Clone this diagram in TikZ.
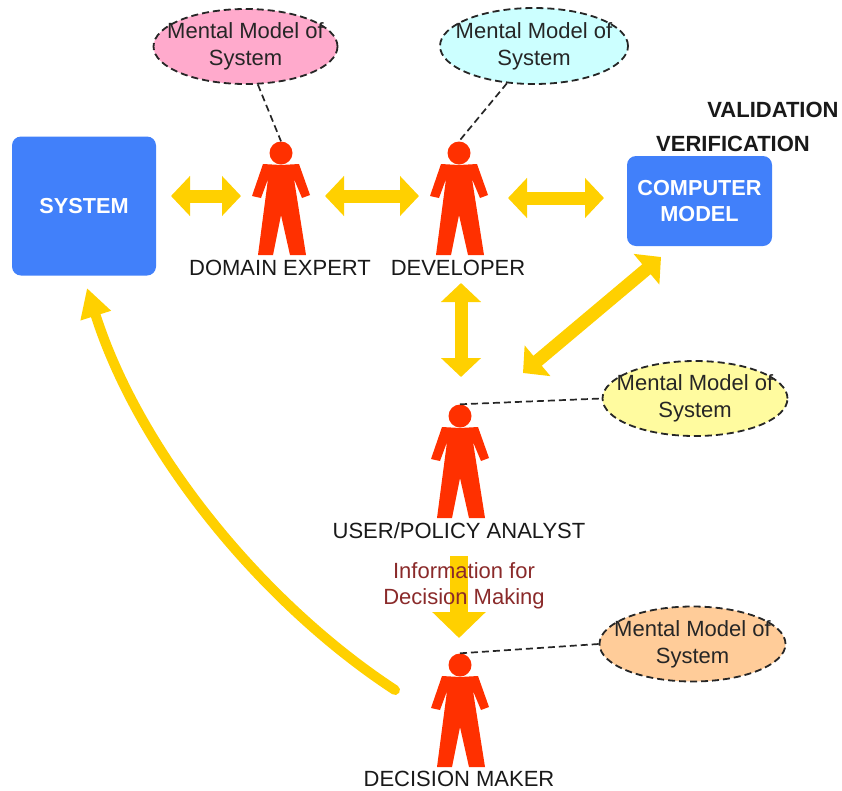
\documentclass[tikz,border=0pt]{standalone}
\usepackage{fontspec}
\setmainfont{Liberation Sans}
\usetikzlibrary{arrows.meta,shapes.geometric}
\definecolor{sysblue}{HTML}{4180FA}
\definecolor{arrowgold}{HTML}{FFD000}
\definecolor{personred}{HTML}{FF3000}
\definecolor{infored}{HTML}{8A2A2A}
\definecolor{ellpink}{HTML}{FFAACC}
\definecolor{ellcyan}{HTML}{CCFFFF}
\definecolor{ellyellow}{HTML}{FFFB9F}
\definecolor{ellorange}{HTML}{FFCC99}
\tikzset{
  x=1pt,y=-1pt,
  every node/.style={align=center,inner sep=0pt},
  sysbox/.style={draw=none,fill=sysblue,rounded corners=9pt,text=white,font=\fontsize{21.7}{26}\selectfont\bfseries},
  thought/.style={ellipse,draw=black!85,dash pattern=on 7pt off 4pt,line width=1.8pt,text=black!85,inner xsep=-20pt,inner ysep=-8pt,font=\fontsize{22}{27}\selectfont},
  link/.style={draw=black!85,dash pattern=on 7pt off 4pt,line width=1.7pt},
  dbl/.style={draw=arrowgold,line width=13pt,{Triangle[length=19pt,width=39pt]}-{Triangle[length=19pt,width=39pt]}},
  role/.style={text=black!90,font=\fontsize{22}{26}\selectfont},
  tag/.style={text=black!90,font=\fontsize{22}{26}\selectfont\bfseries},
  pics/person/.style={code={
    \fill[personred] (-18,11)--(-29,43)--(-20,45)--(-13,26)--(-23,102)--(-8,102)--(0,62)--(9,102)--(25,102)--(13,26)--(21,45)--(29,42)--(18,11)--(0,12)--cycle;
    \node[circle,fill=personred,minimum size=23pt] (-head) at (0,0) {};
  }}
}
\begin{document}
\begin{tikzpicture}
\useasboundingbox (0,0) rectangle (842,790);
% boxes
\node[sysbox,minimum width=144pt,minimum height=139pt] (sys) at (84,206) {SYSTEM};
\node[sysbox,minimum width=145pt,minimum height=90pt] (comp) at (699.5,201) {COMPUTER\\MODEL};
% people
\pic (dom) at (281,153) {person};
\pic (dev) at (459,153) {person};
\pic (usr) at (460,416) {person};
\pic (dm) at (460,665) {person};
% ellipses
\node[thought,fill=ellpink,minimum width=184pt,minimum height=75pt] (e1) at (245.5,46.5) {Mental Model of\\System};
\node[thought,fill=ellcyan,minimum width=188pt,minimum height=76pt] (e2) at (534,46) {Mental Model of\\System};
\node[thought,fill=ellyellow,minimum width=185pt,minimum height=75pt] (e3) at (695,398.5) {Mental Model of\\System};
\node[thought,fill=ellorange,minimum width=186pt,minimum height=75pt] (e4) at (692.5,644) {Mental Model of\\System};
% dashed links
\draw[link] (e1.-72) -- (dom-head.north);
\draw[link] (e2.-126) -- (dev-head.north);
\draw[link] (usr-head.north) -- (e3.west);
\draw[link] (dm-head.north) -- (e4.west);
% coordinates for arrows
\coordinate (a1) at (171,196); \coordinate (a2) at (241,196);
\coordinate (b1) at (325,196); \coordinate (b2) at (419,196);
\coordinate (c1) at (508,198); \coordinate (c2) at (604,198);
\coordinate (d1) at (461,283); \coordinate (d2) at (461,377);
\coordinate (f1) at (661,257); \coordinate (f2) at (523,373);
\coordinate (g1) at (459,556); \coordinate (g2) at (459,638);
\coordinate (h1) at (395,690); \coordinate (h2) at (87,288);
\draw[dbl] (a1) -- (a2);
\draw[dbl] (b1) -- (b2);
\draw[dbl] (c1) -- (c2);
\draw[dbl] (d1) -- (d2);
\draw[dbl] (f1) -- (f2);
\draw[draw=arrowgold,line width=18pt,-{Triangle[length=26pt,width=52pt]}] (g1) -- (g2);
\draw[draw=arrowgold,line width=10pt,line cap=round,-{Triangle[length=29pt,width=30pt]}] (h1) .. controls (265,605) and (140,455) .. (h2);
% labels
\node[role] (l1) at (280,268) {DOMAIN EXPERT};
\node[role] (l2) at (458,268) {DEVELOPER};
\node[role] (l3) at (459,531) {USER/POLICY ANALYST};
\node[role] (l4) at (459,779) {DECISION MAKER};
\node[text=infored,font=\fontsize{22}{26}\selectfont] (info) at (464,586) {Information for\\Decision Making};
\node[tag] (val) at (773,110) {VALIDATION};
\node[tag] (ver) at (733,144) {VERIFICATION};
\end{tikzpicture}
\end{document}
